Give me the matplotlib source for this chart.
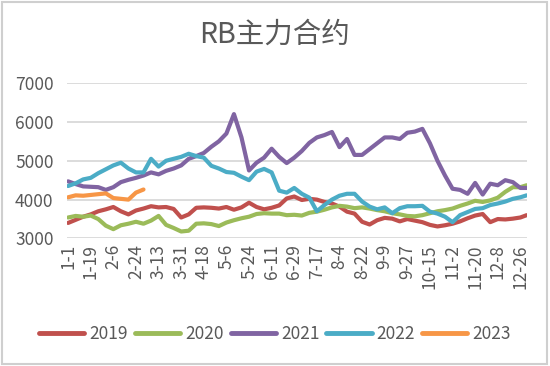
import datetime as dt
import matplotlib
matplotlib.use("Agg")
import matplotlib.pyplot as plt
from matplotlib.patches import Rectangle

plt.rcParams['font.family'] = ['Noto Sans CJK SC', 'DejaVu Sans']

# Category axis: every day of a (leap) calendar year, labelled "m-d"
year_start = dt.date(2020, 1, 1)
categories = [f"{(year_start + dt.timedelta(days=i)).month}-{(year_start + dt.timedelta(days=i)).day}"
              for i in range(366)]
tick_every = 18

# Sample days (day-of-year index) at which values were read
sample_days = list(range(0, 361, 6)) + [365]

rb_2019 = [3400, 3480, 3560, 3620, 3700, 3750, 3810, 3700, 3620, 3720, 3770, 3830, 3800, 3810, 3760, 3540,
           3620, 3790, 3800, 3790, 3770, 3810, 3740, 3800, 3920, 3810, 3750, 3790, 3850, 4030,
           4080, 3990, 4020, 4000, 3940, 3900, 3820, 3690, 3640, 3430, 3360, 3470, 3530, 3510, 3440, 3500,
           3460, 3420, 3350, 3310, 3340, 3380, 3440, 3520, 3590, 3630, 3420, 3500, 3490, 3510, 3540, 3600]
rb_2020 = [3540, 3580, 3560, 3590, 3500, 3330, 3240, 3340, 3380, 3430, 3380, 3460, 3580, 3350, 3270, 3180,
           3200, 3380, 3390, 3370, 3320, 3410, 3470, 3520, 3560, 3630, 3650, 3640, 3640, 3600,
           3610, 3590, 3660, 3690, 3740, 3800, 3840, 3820, 3780, 3800, 3770, 3730, 3700, 3650, 3620, 3580,
           3570, 3600, 3650, 3700, 3730, 3770, 3840, 3900, 3970, 3940, 3980, 4050, 4200, 4320, 4320, 4370]
rb_2021 = [4470, 4400, 4340, 4330, 4320, 4250, 4320, 4450, 4510, 4560, 4620, 4700, 4650, 4740, 4800, 4880,
           5050, 5120, 5200, 5360, 5500, 5700, 6200, 5600, 4750, 4950, 5080, 5310, 5100, 4940,
           5080, 5250, 5460, 5600, 5660, 5740, 5350, 5560, 5150, 5150, 5300, 5450, 5600, 5600, 5560, 5720,
           5750, 5820, 5450, 5000, 4620, 4280, 4250, 4150, 4430, 4130, 4410, 4370, 4500, 4450, 4300, 4300]
rb_2022 = [4350, 4420, 4520, 4560, 4680, 4780, 4880, 4950, 4800, 4700, 4700, 5050, 4850, 5000, 5050, 5100,
           5180, 5120, 5080, 4870, 4800, 4710, 4690, 4590, 4500, 4720, 4790, 4700, 4230, 4180,
           4300, 4150, 4050, 3700, 3860, 4000, 4100, 4150, 4150, 3950, 3820, 3750, 3800, 3650, 3780, 3830,
           3830, 3840, 3690, 3640, 3560, 3420, 3600, 3680, 3760, 3780, 3860, 3900, 3950, 4020, 4060, 4110]
rb_2023 = [4060, 4110, 4100, 4120, 4140, 4160, 4040, 4020, 4000, 4180, 4260]

series = [("2019", rb_2019, "#C0504D"),
          ("2020", rb_2020, "#9BBB59"),
          ("2021", rb_2021, "#8064A2"),
          ("2022", rb_2022, "#4BACC6"),
          ("2023", rb_2023, "#F79646")]

y_ticks = [3000, 4000, 5000, 6000, 7000]

fig = plt.figure(figsize=(5.5, 3.66), dpi=100)
ax = fig.add_axes([0.1227, 0.3484, 0.836, 0.4248])

for name, vals, color in series:
    ax.plot(sample_days[:len(vals)], vals, color=color, lw=3.0, label=name,
            solid_joinstyle='round', solid_capstyle='round')

ax.set_ylim(3000, 7000)
ax.set_xlim(-0.5, 365.5)
ax.set_yticks(y_ticks)
ax.set_yticklabels([str(v) for v in y_ticks])
tick_pos = list(range(0, len(categories), tick_every))
ax.set_xticks(tick_pos)
ax.set_xticklabels([categories[i] for i in tick_pos], rotation=90)
ax.grid(axis='y', color='#d9d9d9', lw=1.3)
ax.set_axisbelow(True)
for s in ax.spines.values():
    s.set_visible(False)
ax.tick_params(axis='both', length=0, labelsize=12.5, colors='#595959')
ax.tick_params(axis='y', pad=10)
ax.tick_params(axis='x', pad=4)

fig.text(0.5, 0.904, "RB主力合约", ha='center', va='center', fontsize=20.5, color='#595959')

leg = fig.legend(loc='center', bbox_to_anchor=(0.5, 0.088), ncol=5, frameon=False,
                 fontsize=12.5, handlelength=2.6, handletextpad=0.3, columnspacing=0.4,
                 labelcolor='#595959')
for line in leg.get_lines():
    line.set_linewidth(3.5)

fig.patches.append(Rectangle((0.004, 0.006), 0.99, 0.988, transform=fig.transFigure,
                             fill=False, edgecolor='#cfcfcf', lw=1.5))

fig.savefig("out.png", dpi=100)
